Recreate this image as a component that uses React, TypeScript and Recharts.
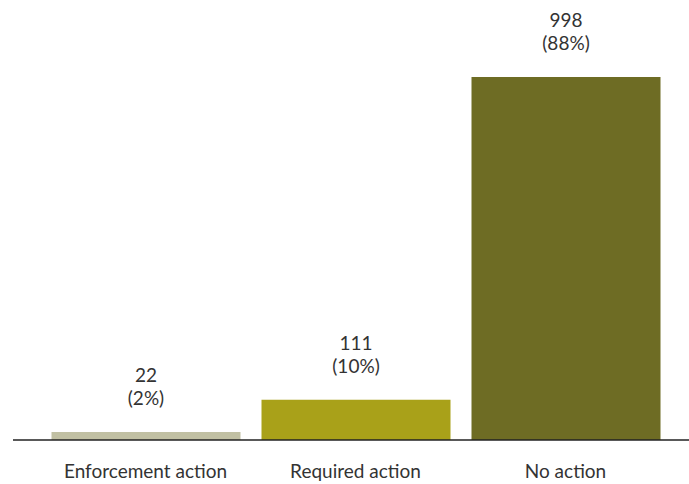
import React from 'react';
import { BarChart, Bar, XAxis, YAxis, Cell, LabelList } from 'recharts';

const categories = ['Enforcement action', 'Required action', 'No action'];
const counts = [22, 111, 998];
const shares = [2, 10, 88];
const barColors = ['#c1c0a3', '#a9a119', '#6e6c24'];

const data = categories.map((name, i) => ({ name, count: counts[i], share: shares[i] }));

const FONT = 'Lato, "Open Sans", sans-serif';

const TwoLineLabel = (props: any) => {
  const { x, y, width, index } = props;
  const cx = Number(x) + Number(width) / 2;
  const top = Number(y);
  return (
    <text x={cx} textAnchor="middle" fill="#333" fontSize={19} fontFamily={FONT}>
      <tspan x={cx} y={top - 50}>{counts[index]}</tspan>
      <tspan x={cx} y={top - 27}>({shares[index]}%)</tspan>
    </text>
  );
};

const CategoryTick = (props: any) => {
  const { x, y, payload } = props;
  return (
    <text x={x} y={Number(y) + 38} textAnchor="middle" fill="#333" fontSize={19} fontFamily={FONT}>
      {payload.value}
    </text>
  );
};

export default function App() {
  return (
    <div style={{ position: 'absolute', left: 0, top: 0, background: '#fff' }}>
      <BarChart
        width={689}
        height={484}
        data={data}
        margin={{ top: 77, right: 0, bottom: 0, left: 13 }}
        barSize={189}
      >
        <XAxis
          dataKey="name"
          height={44}
          padding={{ left: 27.5, right: 18.5 }}
          tickLine={false}
          tickSize={0}
          tickMargin={0}
          axisLine={{ stroke: '#222', strokeWidth: 1.5 }}
          tick={<CategoryTick />}
          interval={0}
        />
        <YAxis hide domain={[0, 998]} />
        <Bar dataKey="count" isAnimationActive={false}>
          {data.map((d, i) => (
            <Cell key={d.name} fill={barColors[i]} />
          ))}
          <LabelList dataKey="count" content={<TwoLineLabel />} />
        </Bar>
      </BarChart>
    </div>
  );
}
